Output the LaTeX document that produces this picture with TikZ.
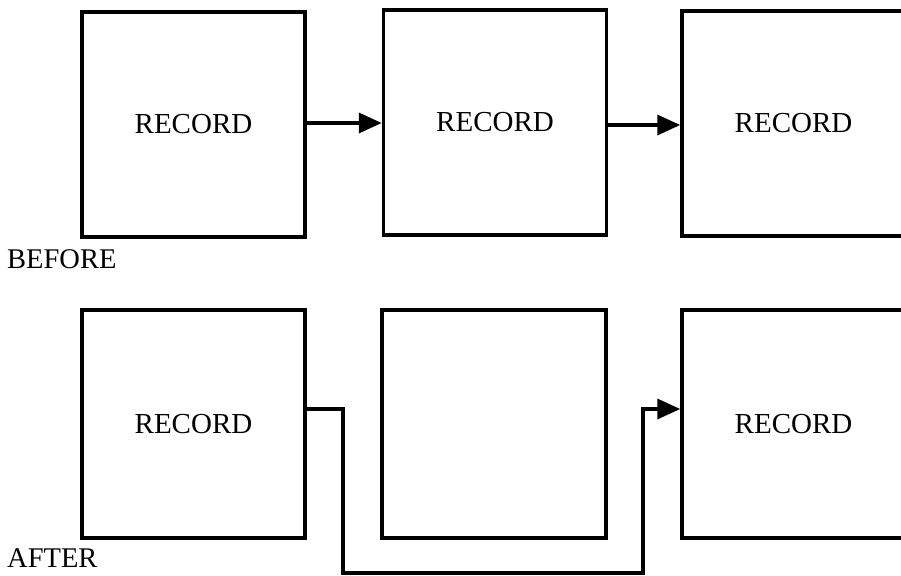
\documentclass[tikz,border=0pt]{standalone}
\usepackage{fontspec}
\setmainfont{Liberation Serif}
\usetikzlibrary{arrows.meta}
\begin{document}
\begin{tikzpicture}[x=1pt,y=-1pt,
  recbox/.style={draw=black, line width=3.5pt, minimum width=223pt, minimum height=225pt, inner sep=0pt, font=\fontsize{29}{31}\selectfont},
  conn/.style={line width=3.5pt, -{Triangle[length=23pt,width=20pt]}},
  lbl/.style={font=\fontsize{28.5}{30}\selectfont, anchor=base west, inner sep=0pt}]
\useasboundingbox (0,0) rectangle (901,575);
\clip (0,0) rectangle (901,575);
\fill[white] (0,0) rectangle (901,575);
% before row
\node[recbox] (b1) at (193.5,124.5) {RECORD};
\node[recbox] (b2) at (495,122.5) {RECORD};
\node[recbox] (b3) at (793.5,123.5) {RECORD};
\draw[conn] (b1.east |- 0,123) -- (b2.west |- 0,123);
\draw[conn] (b2.east |- 0,125) -- (b3.west |- 0,125);
\node[lbl] (before) at (7,268) {BEFORE};
% after row
\node[recbox, minimum height=228pt] (a1) at (193.5,424) {RECORD};
\node[recbox, minimum height=228pt, minimum width=224pt] (a2) at (494,424) {};
\node[recbox, minimum height=228pt] (a3) at (793.5,424) {RECORD};
\coordinate (c1) at (343,573);
\coordinate (c2) at (643,573);
\draw[conn] (a1.east |- 0,409) -| (c1) -- (c2) |- (a3.west |- 0,409);
\node[lbl] (after) at (7,567) {AFTER};
\end{tikzpicture}
\end{document}
